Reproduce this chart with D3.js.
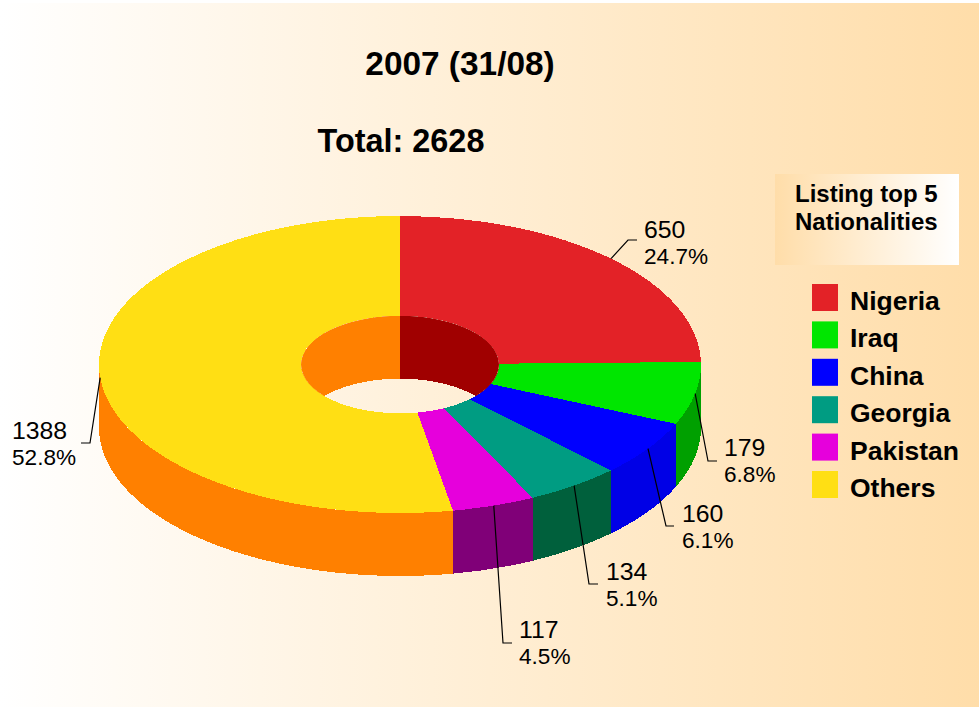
<!DOCTYPE html>
<html>
<head>
<meta charset="utf-8">
<script src="https://cdn.jsdelivr.net/npm/d3@7"></script>
<style>
  html, body { margin: 0; padding: 0; background: #fff; }
  text { font-family: "Liberation Sans", Arial, sans-serif; fill: #000; }
  .bold { font-weight: bold; }
  .pie path { shape-rendering: crispEdges; }
</style>
</head>
<body>
<div id="chart"></div>
<script>
// chart data
var nationalities = ["Nigeria", "Iraq", "China", "Georgia", "Pakistan", "Others"];
var counts = [650, 179, 160, 134, 117, 1388];
var percents = ["24.7%", "6.8%", "6.1%", "5.1%", "4.5%", "52.8%"];
var topColors = ["#e32227", "#00e600", "#0000ff", "#009c82", "#e600dc", "#ffdf14"];
var sideColors = ["#a00000", "#00a000", "#0000e6", "#00603c", "#800078", "#ff8000"];
var chartTitle = "2007 (31/08)";
var totalLabel = "Total: 2628";
var legendTitle = ["Listing top 5", "Nationalities"];

var width = 979, height = 707;
var cx = 400, cy = 364.5, rx = 301, ry = 148.5, holeRx = 99, depth = 63;
var squash = ry / rx;

var svg = d3.select("#chart").append("svg")
  .attr("width", width)
  .attr("height", height)
  .style("display", "block");

var defs = svg.append("defs");

function addGradient(id, from, to) {
  var g = defs.append("linearGradient").attr("id", id)
    .attr("x1", "0").attr("x2", "1").attr("y1", "0").attr("y2", "0");
  g.append("stop").attr("offset", "0").attr("stop-color", from);
  g.append("stop").attr("offset", "1").attr("stop-color", to);
}
addGradient("bgGrad", "#ffffff", "#ffdda9");
addGradient("legendGrad", "#ffdda9", "#ffffff");

svg.append("rect")
  .attr("x", 0).attr("y", 3)
  .attr("width", width).attr("height", height - 3)
  .attr("fill", "url(#bgGrad)");

svg.append("text").attr("class", "bold")
  .attr("x", 460).attr("y", 75)
  .attr("text-anchor", "middle")
  .style("font-size", "33.4px")
  .text(chartTitle);

svg.append("text").attr("class", "bold")
  .attr("x", 401).attr("y", 152)
  .attr("text-anchor", "middle")
  .style("font-size", "32.4px")
  .text(totalLabel);

// pie angles, clockwise from 12 o'clock
var pie = d3.pie().sort(null).value(function(d) { return d; });
var slices = pie(counts);

function ellipsePoint(radiusX, angle, dy) {
  return [cx + radiusX * Math.sin(angle), cy - radiusX * squash * Math.cos(angle) + dy];
}

// band of wall hanging below the rim between two angles
function wallPath(radiusX, a0, a1) {
  var p0 = ellipsePoint(radiusX, a0, 0), p1 = ellipsePoint(radiusX, a1, 0);
  var q1 = ellipsePoint(radiusX, a1, depth), q0 = ellipsePoint(radiusX, a0, depth);
  var r = radiusX + " " + (radiusX * squash);
  return "M" + p0 + "A" + r + " 0 0 1 " + p1 + "L" + q1 + "A" + r + " 0 0 0 " + q0 + "Z";
}

var pi = Math.PI;
var pieGroup = svg.append("g").attr("class", "pie");

// outer wall, only the front half faces us
slices.forEach(function(s, i) {
  var a0 = Math.max(s.startAngle, pi / 2), a1 = Math.min(s.endAngle, 3 * pi / 2);
  if (a1 <= a0) return;
  pieGroup.append("path")
    .attr("d", wallPath(rx, a0, a1))
    .attr("fill", sideColors[i]);
});

// top face
var arc = d3.arc().innerRadius(holeRx).outerRadius(rx);
pieGroup.selectAll(".top")
  .data(slices)
  .enter().append("path")
  .attr("class", "top")
  .attr("transform", "translate(" + cx + "," + cy + ") scale(1," + squash + ")")
  .attr("d", arc)
  .attr("fill", function(d, i) { return topColors[i]; });

// inner wall seen through the hole, back half only
defs.append("clipPath").attr("id", "holeClip")
  .append("ellipse")
  .attr("cx", cx).attr("cy", cy)
  .attr("rx", holeRx).attr("ry", holeRx * squash);

var innerWall = pieGroup.append("g").attr("clip-path", "url(#holeClip)");
slices.forEach(function(s, i) {
  var spans = [[s.startAngle, Math.min(s.endAngle, pi / 2)],
               [Math.max(s.startAngle, 3 * pi / 2), s.endAngle]];
  spans.forEach(function(sp) {
    if (sp[1] <= sp[0]) return;
    innerWall.append("path")
      .attr("d", wallPath(holeRx, sp[0], sp[1]))
      .attr("fill", sideColors[i]);
  });
});

// value labels: leader elbow and text spot for each slice
var elbows = [[628, 240, 637], [708, 461, 717], [666, 526, 674], [589, 584, 598], [503, 643, 512], [90, 443, 81]];
var labelSpots = [[644, 238], [724, 456], [682, 522], [606, 580], [519, 638], [12, 439]];

var labels = svg.append("g").attr("class", "labels");
slices.forEach(function(s, i) {
  var mid = (s.startAngle + s.endAngle) / 2;
  var start = ellipsePoint(rx, mid, 0);
  labels.append("polyline")
    .attr("points", [start, [elbows[i][0], elbows[i][1]], [elbows[i][2], elbows[i][1]]].join(" "))
    .attr("fill", "none")
    .attr("stroke", "#000")
    .attr("stroke-width", 1.2);
  labels.append("text")
    .attr("x", labelSpots[i][0]).attr("y", labelSpots[i][1])
    .style("font-size", "24.8px")
    .text(counts[i]);
  labels.append("text")
    .attr("x", labelSpots[i][0]).attr("y", labelSpots[i][1] + 25.5)
    .style("font-size", "22.6px")
    .text(percents[i]);
});

// legend
svg.append("rect")
  .attr("x", 775).attr("y", 174)
  .attr("width", 184).attr("height", 91)
  .attr("fill", "url(#legendGrad)");

svg.selectAll(".legendTitle")
  .data(legendTitle)
  .enter().append("text")
  .attr("class", "legendTitle bold")
  .attr("x", 795)
  .attr("y", function(d, i) { return 202 + i * 28; })
  .style("font-size", "24px")
  .text(function(d) { return d; });

var legendY = d3.scalePoint().domain(nationalities).range([284, 471]);

svg.selectAll(".swatch")
  .data(nationalities)
  .enter().append("rect")
  .attr("class", "swatch")
  .attr("x", 812)
  .attr("y", function(d) { return legendY(d); })
  .attr("width", 26)
  .attr("height", 27)
  .attr("fill", function(d, i) { return topColors[i]; });

svg.selectAll(".legendName")
  .data(nationalities)
  .enter().append("text")
  .attr("class", "legendName bold")
  .attr("x", 850)
  .attr("y", function(d) { return legendY(d) + 26; })
  .style("font-size", "26.5px")
  .text(function(d) { return d; });
</script>
</body>
</html>
